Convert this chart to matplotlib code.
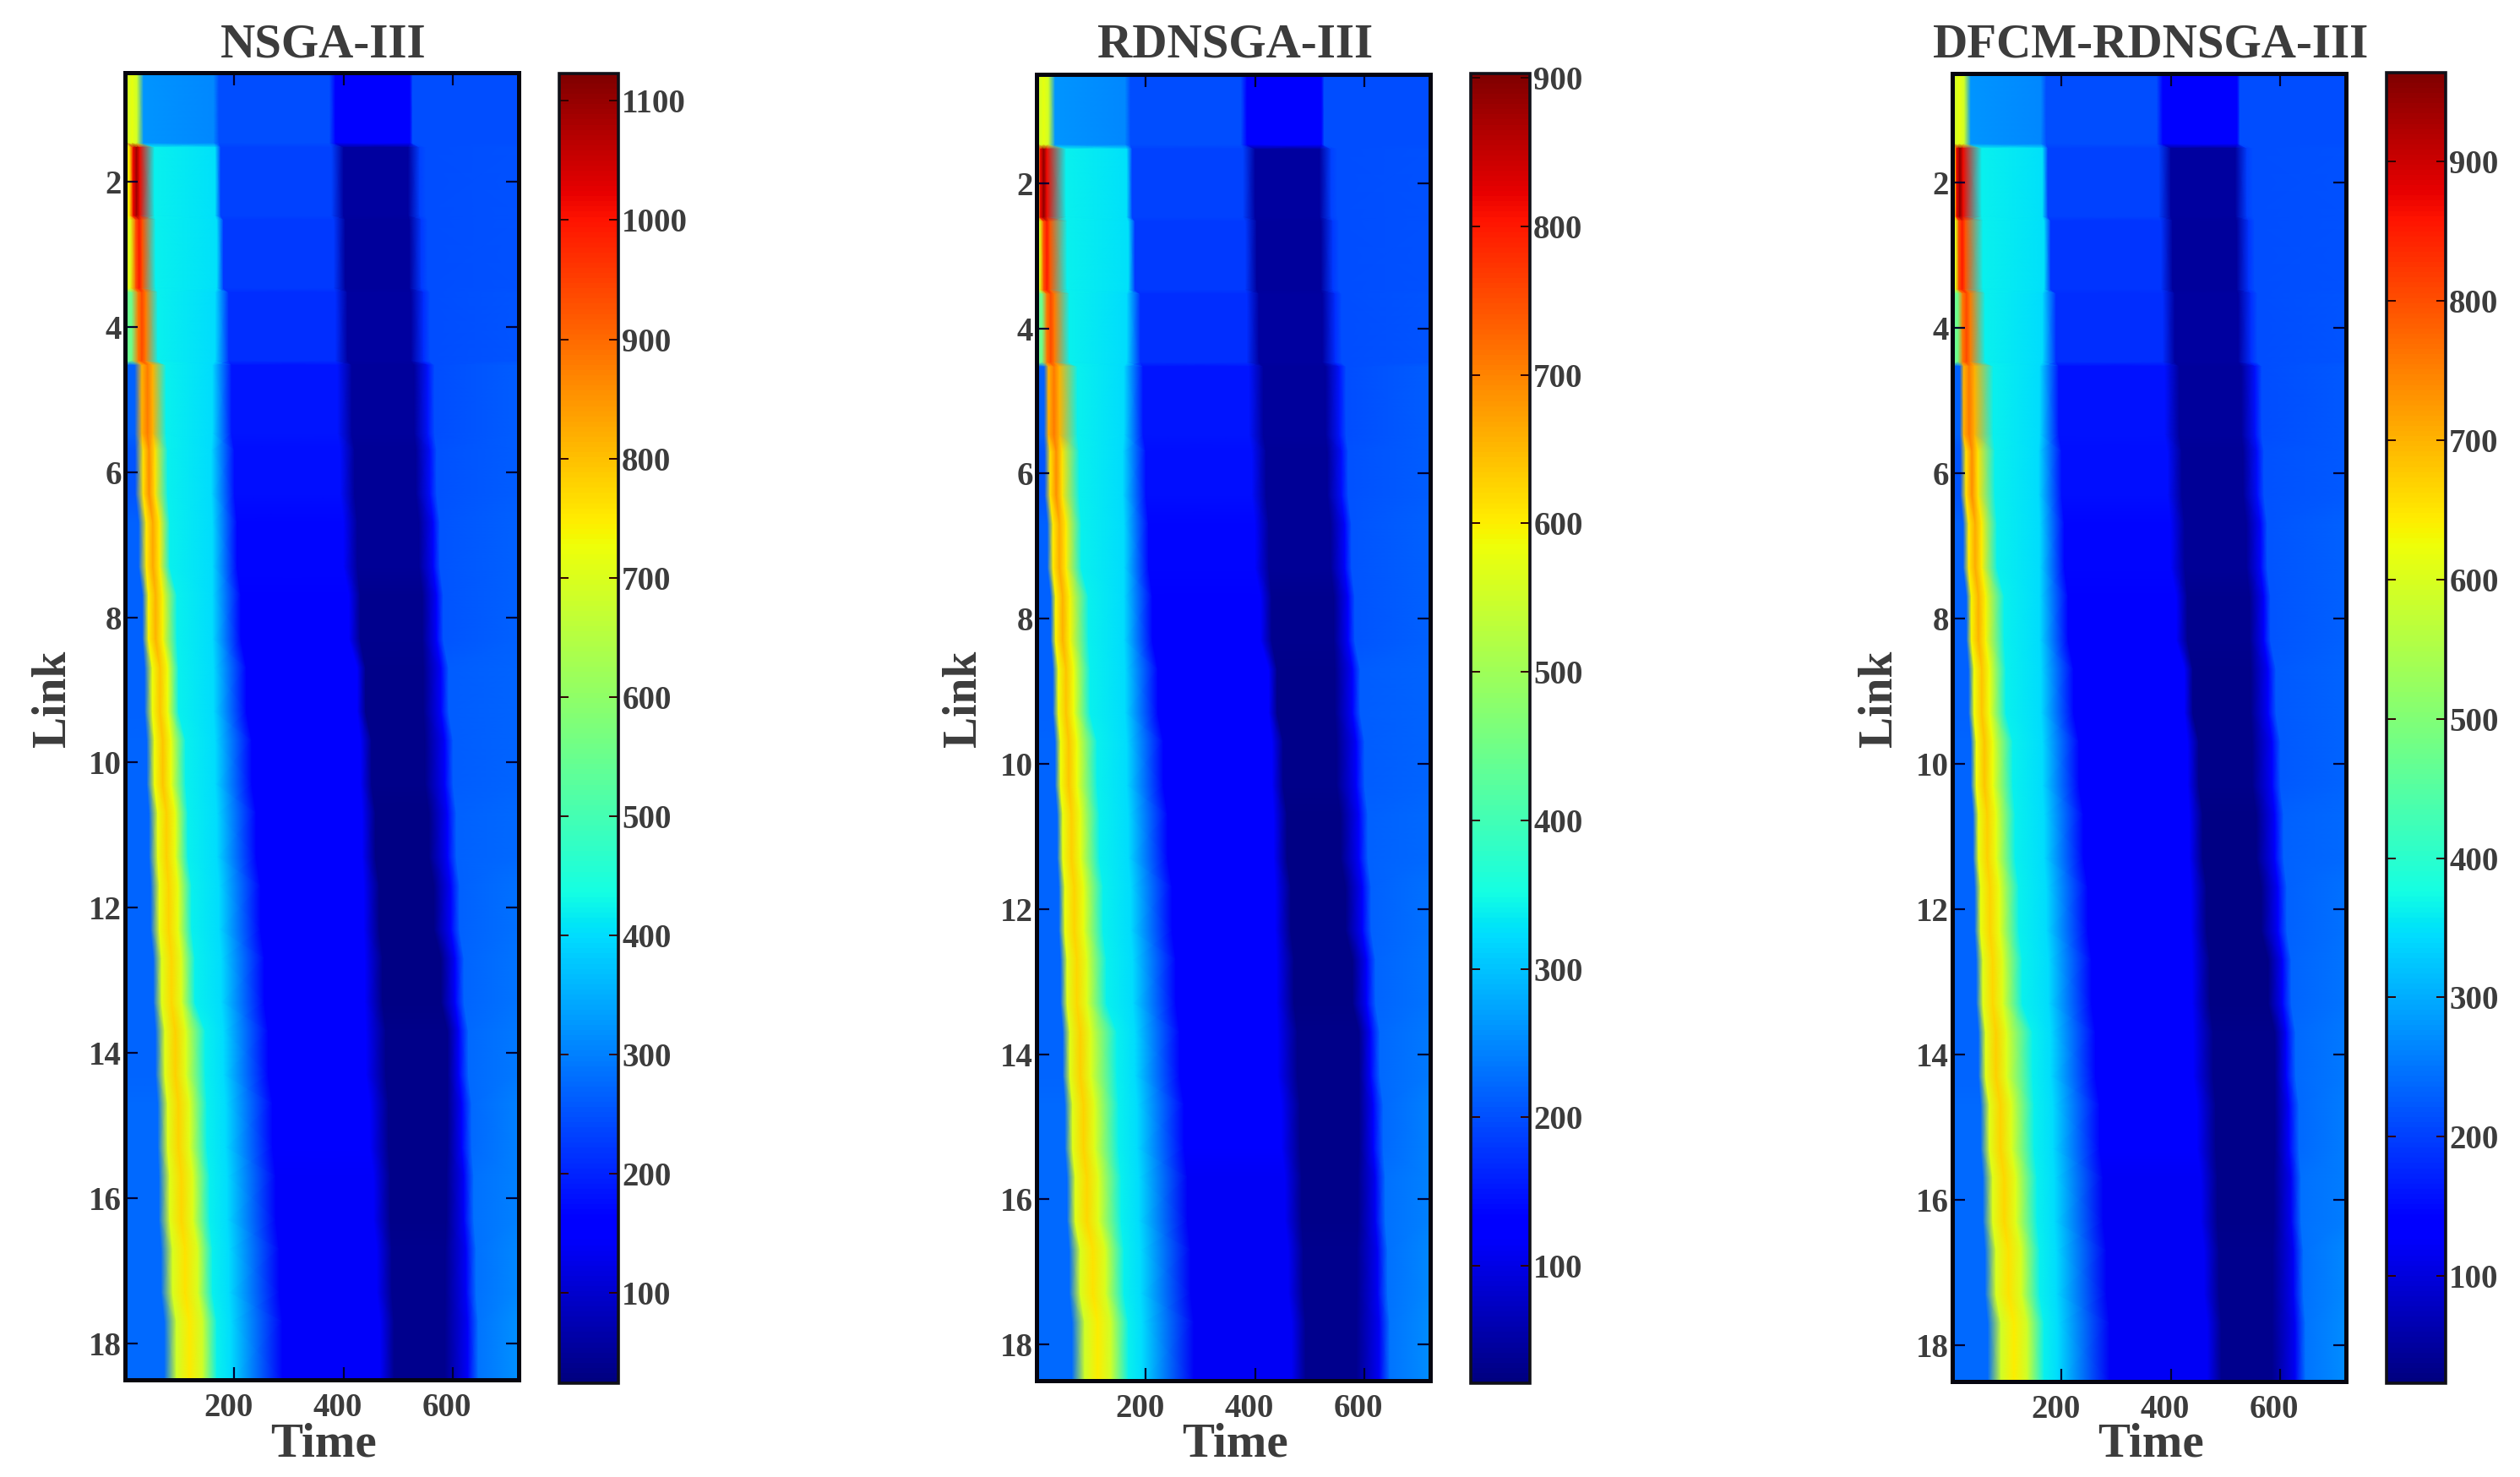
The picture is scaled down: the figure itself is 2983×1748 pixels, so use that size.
#!/usr/bin/env python3
import matplotlib

matplotlib.use("Agg")
import matplotlib.pyplot as plt
import numpy as np
from matplotlib.colors import Normalize
from matplotlib.transforms import ScaledTranslation

WIDTH, HEIGHT = 2983, 1748
TEXT_COLOR = "#3c3c3c"

links = list(range(1, 19))
titles = ["NSGA-III", "RDNSGA-III", "DFCM-RDNSGA-III"]
x_ticks = [200, 400, 600]
y_ticks = [2, 4, 6, 8, 10, 12, 14, 16, 18]
t_max = 720

# colour limits
vmins = [24, 21, 23]
vmaxs = [1123, 903, 964]
cbar_ticks = [
    [100, 200, 300, 400, 500, 600, 700, 800, 900, 1000, 1100],
    [100, 200, 300, 400, 500, 600, 700, 800, 900],
    [100, 200, 300, 400, 500, 600, 700, 800, 900],
]

# time of the front on each link (read per panel)
rise_1 = [1, 8, 10, 12, 18, 19, 25, 32, 36, 40, 44, 47, 52, 56, 60, 62, 66, 72]
rise_2 = [1, 2, 6, 10, 14, 15, 20, 26, 30, 34, 38, 41, 44, 48, 52, 56, 60, 65]
rise_3 = [1, 4, 6, 10, 14, 15, 20, 26, 30, 34, 38, 41, 44, 48, 52, 56, 60, 65]
peak_t_1 = [13, 21, 26, 31, 41, 44, 51, 56, 64, 69, 76, 80, 85, 92, 98, 103, 110, 118]
peak_t_2 = [13, 13, 19, 26, 32, 36, 42, 48, 54, 59, 64, 69, 74, 80, 86, 92, 103, 112]
peak_t_3 = [13, 14, 18, 26, 31, 36, 42, 48, 54, 59, 64, 69, 74, 80, 88, 95, 103, 113]
half_width = [9, 6, 6, 7, 10, 11, 12, 13, 14, 15, 16, 17, 18, 19, 20, 21, 23, 24]

# times of the later features, about the same in all panels
cyan_start = [34, 54, 56, 60, 75, 78, 82, 95, 98, 111, 115, 122, 128, 147, 150, 155, 160, 168]
cyan_end = [162, 165, 168, 165, 160, 158, 160, 160, 162, 165, 168, 172, 176, 180, 184, 187, 190, 193]
fade_end = [172, 175, 180, 190, 195, 200, 205, 212, 222, 232, 240, 248, 255, 262, 270, 276, 282, 288]
ramp_start = [374, 378, 382, 385, 389, 394, 400, 410, 425, 431, 434, 437, 439, 441, 448, 455, 461, 467]
trough_in = [385, 400, 403, 407, 415, 420, 425, 430, 440, 451, 458, 465, 471, 477, 482, 485, 488, 492]
trough_out = [521, 518, 520, 523, 529, 532, 538, 544, 546, 549, 556, 565, 578, 590, 590, 588, 586, 585]
trough_end = [526, 539, 542, 546, 554, 558, 564, 570, 578, 585, 590, 596, 604, 611, 616, 620, 624, 627]
recover = [532, 550, 553, 558, 566, 570, 576, 582, 592, 600, 606, 612, 620, 628, 634, 638, 642, 646]

# values per link, NSGA-III
left_1 = [684, 750, 706, 552, 266, 255, 266, 266, 266, 272, 272, 272, 272, 272, 277, 277, 277, 277]
flank_1 = [684, 1014, 926, 882, 816, 761, 750, 739, 728, 728, 717, 717, 706, 706, 706, 706, 695, 684]
peak_1 = [717, 1091, 992, 937, 882, 860, 827, 816, 794, 794, 783, 778, 772, 783, 778, 772, 761, 750]
cyan_a_1 = [321, 420, 420, 420, 420, 420, 420, 420, 420, 420, 420, 420, 420, 420, 420, 420, 420, 420]
cyan_b_1 = [310, 404, 404, 398, 398, 398, 398, 398, 398, 398, 398, 398, 398, 398, 398, 398, 398, 398]
mid_1 = [244, 233, 222, 211, 184, 178, 167, 156, 151, 145, 145, 145, 145, 145, 145, 140, 140, 140]
trough_1 = [145, 57, 52, 57, 52, 46, 46, 40, 35, 35, 29, 29, 29, 35, 35, 35, 40, 40]
recov_1 = [244, 244, 244, 244, 244, 250, 255, 255, 261, 261, 266, 266, 272, 277, 277, 283, 283, 288]
right_1 = [244, 250, 250, 255, 261, 261, 266, 266, 272, 272, 277, 283, 288, 294, 299, 299, 310, 316]

# values per link, RDNSGA-III
left_2 = [550, 603, 568, 444, 215, 206, 215, 215, 215, 219, 219, 219, 219, 219, 224, 224, 224, 224]
flank_2 = [550, 815, 744, 709, 656, 612, 603, 594, 585, 585, 577, 577, 568, 568, 568, 568, 559, 550]
peak_2 = [577, 890, 797, 753, 709, 691, 665, 656, 638, 638, 630, 625, 621, 630, 625, 621, 612, 603]
cyan_a_2 = [259, 339, 339, 339, 339, 339, 339, 339, 339, 339, 339, 339, 339, 339, 339, 339, 339, 339]
cyan_b_2 = [250, 325, 325, 321, 321, 321, 321, 321, 321, 321, 321, 321, 321, 321, 321, 321, 321, 321]
mid_2 = [197, 189, 180, 171, 149, 144, 136, 127, 122, 118, 118, 118, 118, 118, 118, 114, 114, 114]
trough_2 = [118, 47, 43, 47, 43, 39, 39, 34, 30, 30, 25, 25, 25, 30, 30, 30, 34, 34]
recov_2 = [197, 197, 197, 197, 197, 202, 206, 206, 211, 211, 215, 215, 219, 224, 224, 228, 228, 233]
right_2 = [197, 202, 202, 206, 211, 211, 215, 215, 219, 219, 224, 228, 233, 237, 242, 242, 250, 255]

# values per link, DFCM-RDNSGA-III
left_3 = [588, 644, 606, 475, 230, 221, 230, 230, 230, 235, 235, 235, 235, 235, 239, 239, 239, 239]
flank_3 = [588, 870, 795, 757, 700, 653, 644, 635, 625, 625, 616, 616, 606, 606, 606, 606, 597, 588]
peak_3 = [616, 950, 851, 804, 757, 738, 710, 701, 682, 682, 672, 668, 663, 672, 668, 663, 653, 644]
cyan_a_3 = [277, 362, 362, 362, 362, 362, 362, 362, 362, 362, 362, 362, 362, 362, 362, 362, 362, 362]
cyan_b_3 = [268, 348, 348, 343, 343, 343, 343, 343, 343, 343, 343, 343, 343, 343, 343, 343, 343, 343]
mid_3 = [211, 202, 192, 183, 159, 155, 145, 136, 131, 127, 127, 127, 127, 127, 127, 122, 122, 122]
trough_3 = [127, 51, 47, 51, 47, 42, 42, 37, 32, 32, 28, 28, 28, 32, 32, 32, 37, 37]
recov_3 = [211, 211, 211, 211, 211, 216, 221, 221, 225, 225, 230, 230, 235, 239, 239, 244, 244, 249]
right_3 = [211, 216, 216, 221, 225, 225, 230, 230, 235, 235, 239, 244, 249, 254, 258, 258, 268, 272]

# panel rectangles in reference pixels: left, right, top, bottom
axes_px = [(148, 614, 86, 1633), (1227, 1693, 88, 1634), (2311, 2777, 87, 1635)]
cbar_px = [(662, 732, 87, 1637), (1741, 1811, 87, 1637), (2825, 2895, 86, 1637)]
link_x_px = [63, 1141, 2225]


def add_axes(fig, box):
    left, right, top, bottom = box
    return fig.add_axes(
        [left / WIDTH, 1 - bottom / HEIGHT, (right - left) / WIDTH, (bottom - top) / HEIGHT]
    )


def build_mesh(rise, peak_t, left, flank, peak, cyan_a, cyan_b, mid, trough, recov, right):
    xs, ys, cs = [], [], []
    for i, link in enumerate(links):
        times = [
            0, rise[i], peak_t[i] - half_width[i], peak_t[i], peak_t[i] + half_width[i],
            cyan_start[i], cyan_end[i], fade_end[i], ramp_start[i], trough_in[i],
            trough_out[i], trough_end[i], recover[i], t_max,
        ]
        values = [
            left[i], left[i], flank[i], peak[i], flank[i], cyan_a[i], cyan_b[i], mid[i],
            mid[i], trough[i], trough[i], mid[i], recov[i], right[i],
        ]
        # each link is a flat band; the blend to the next link is short near the
        # top where the steps are sharp, and wider further down
        half = 0.47 if link <= 5 else 0.3
        top = link - 0.5 if link == links[0] else link - half
        bottom = link + 0.5 if link == links[-1] else link + half
        for y in (top, bottom):
            xs.append(times)
            ys.append([y] * len(times))
            cs.append(values)
    return np.array(xs, float), np.array(ys, float), np.array(cs, float)


plt.rcParams["font.family"] = ["Liberation Serif", "DejaVu Serif"]
plt.rcParams["font.weight"] = "bold"

fig = plt.figure(figsize=(WIDTH / 100, HEIGHT / 100), dpi=100, facecolor="white")

panels = [
    (rise_1, peak_t_1, left_1, flank_1, peak_1, cyan_a_1, cyan_b_1, mid_1, trough_1, recov_1, right_1),
    (rise_2, peak_t_2, left_2, flank_2, peak_2, cyan_a_2, cyan_b_2, mid_2, trough_2, recov_2, right_2),
    (rise_3, peak_t_3, left_3, flank_3, peak_3, cyan_a_3, cyan_b_3, mid_3, trough_3, recov_3, right_3),
]

for n, panel in enumerate(panels):
    ax = add_axes(fig, axes_px[n])
    X, Y, C = build_mesh(*panel)
    norm = Normalize(vmin=vmins[n], vmax=vmaxs[n])
    mesh = ax.pcolormesh(X, Y, C, shading="gouraud", cmap="jet", norm=norm)
    ax.set_xlim(0, t_max)
    ax.set_ylim(18.5, 0.5)
    ax.set_xticks(x_ticks)
    ax.set_yticks(y_ticks)
    ax.tick_params(
        direction="in", top=True, right=True, length=11, width=1.6, color="#000030",
        labelsize=28, labelcolor=TEXT_COLOR, pad=5,
    )
    ax.tick_params(axis="y", pad=3)
    ax.tick_params(axis="x", pad=11)
    for spine in ax.spines.values():
        spine.set_linewidth(3.6)
        spine.set_color("#050510")

    # the x labels sit a little left of their ticks
    offset = ScaledTranslation(-7 / 100, 0, fig.dpi_scale_trans)
    for label in ax.get_xticklabels():
        label.set_transform(label.get_transform() + offset)

    left, right, top, bottom = axes_px[n]
    centre = (left + right) / 2 + 2
    fig.text(centre / WIDTH, 1 - 67 / HEIGHT, titles[n], ha="center", va="baseline",
             fontsize=41, color=TEXT_COLOR)
    fig.text(centre / WIDTH, 1 - 1723 / HEIGHT, "Time", ha="center", va="baseline",
             fontsize=41, color=TEXT_COLOR)
    fig.text(link_x_px[n] / WIDTH, 1 - 827 / HEIGHT, "Link", rotation=90, ha="center",
             va="center", fontsize=40, color=TEXT_COLOR)

    cax = add_axes(fig, cbar_px[n])
    cbar = fig.colorbar(mesh, cax=cax, ticks=cbar_ticks[n])
    cbar.ax.tick_params(
        direction="in", left=True, right=True, length=8, width=1.4, color="#300000",
        labelsize=28, labelcolor=TEXT_COLOR, pad=3,
    )
    cbar.outline.set_linewidth(2.6)
    cbar.outline.set_edgecolor("#101018")

fig.savefig("out.png", dpi=100)
